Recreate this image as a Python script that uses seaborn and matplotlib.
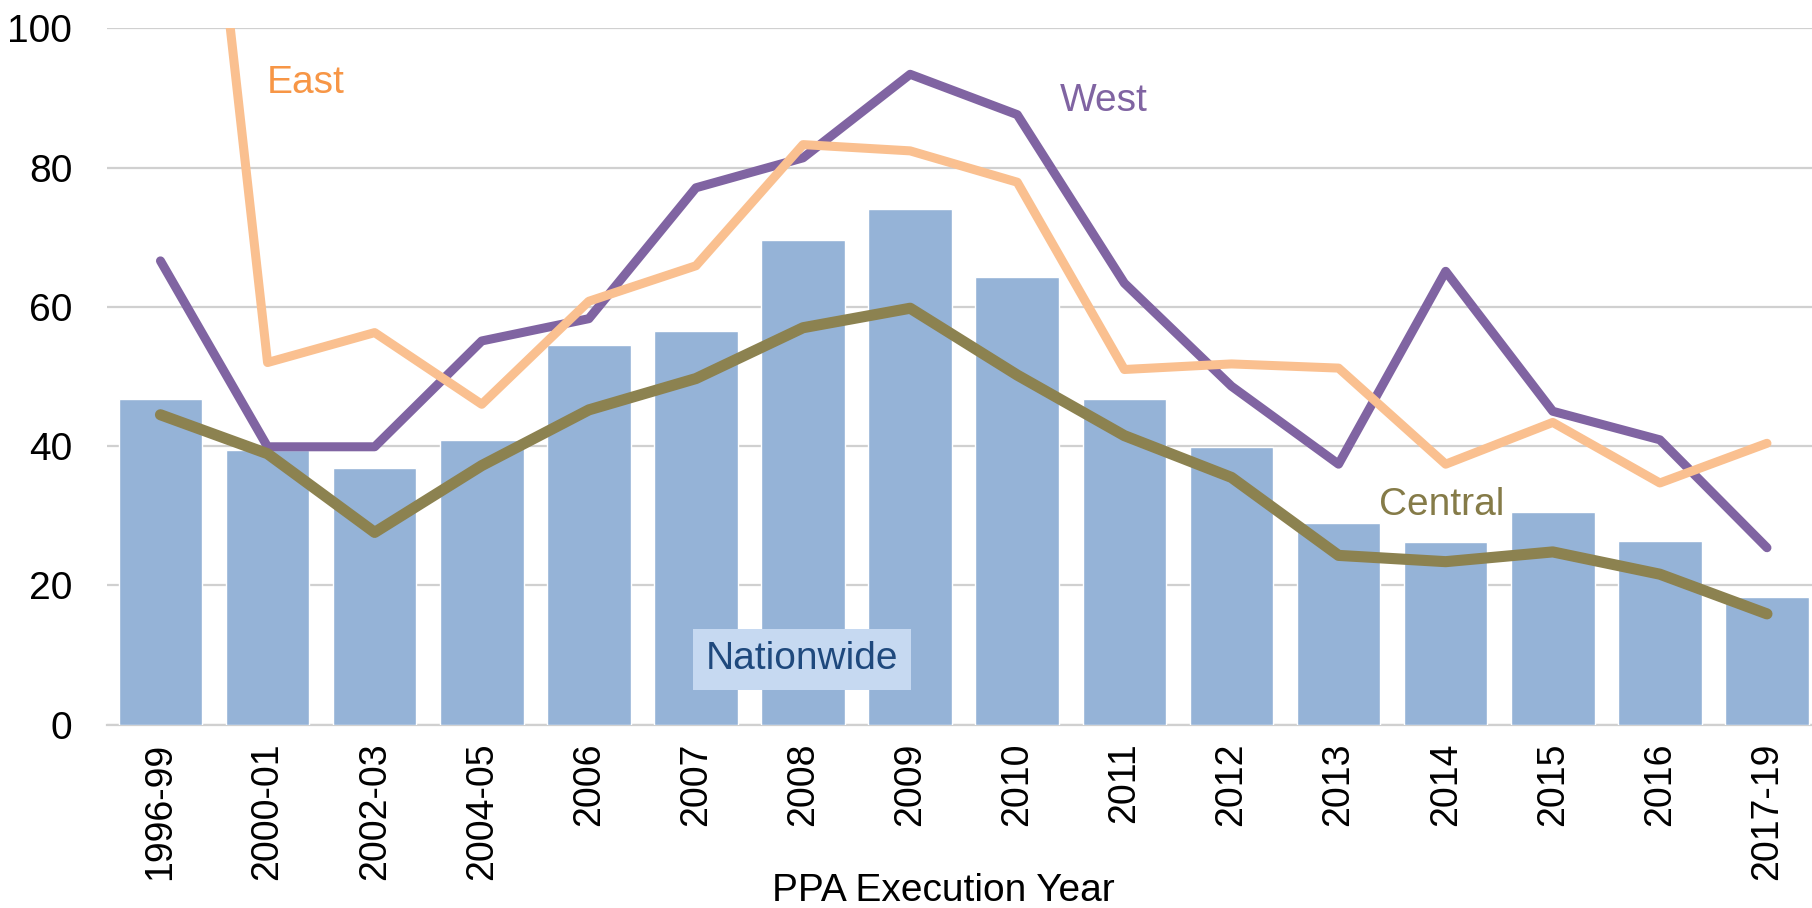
import numpy as np
import pandas as pd
import matplotlib
matplotlib.use("Agg")
import matplotlib.pyplot as plt
import seaborn as sns

# Execution-year buckets
years = ["1996-99", "2000-01", "2002-03", "2004-05", "2006", "2007", "2008",
         "2009", "2010", "2011", "2012", "2013", "2014", "2015", "2016", "2017-19"]

# Nationwide average (bars) and regional averages (lines)
nationwide = [46.7, 39.5, 36.9, 40.9, 54.5, 56.6, 69.6, 74.1, 64.3, 46.7,
              39.9, 28.9, 26.2, 30.6, 26.4, 18.3]
west = [66.6, 39.9, 39.9, 55.1, 58.3, 77.1, 81.4, 93.4, 87.6, 63.4,
        48.6, 37.4, 65.1, 45.0, 40.9, 25.4]
east = [190.0, 52.0, 56.3, 46.0, 60.8, 65.9, 83.3, 82.4, 77.9, 51.0,
        51.8, 51.2, 37.4, 43.4, 34.7, 40.4]
central = [44.5, 38.9, 27.6, 37.2, 45.2, 49.7, 57.0, 59.8, 50.2, 41.5,
           35.5, 24.3, 23.4, 24.8, 21.6, 15.9]

yticks = [0, 20, 40, 60, 80, 100]

df = pd.DataFrame({"year": years, "Nationwide": nationwide,
                   "West": west, "East": east, "Central": central})

sns.set_theme(style="white")
plt.rcParams["font.family"] = ["Liberation Sans", "DejaVu Sans"]

fig = plt.figure(figsize=(18.12, 9.08), dpi=100)
ax = fig.add_axes([0.0590, 0.2020, 0.9457, 0.7668])

sns.barplot(data=df, x="year", y="Nationwide", color="#95B3D7", saturation=1,
            width=0.78, ax=ax, zorder=2)

# Regional lines, with explicit widths applied after drawing
widths = {"West": 6.5, "East": 6.5, "Central": 8.0}
colors = {"West": "#8064A2", "East": "#FAC090", "Central": "#8C8250"}
for region in ["West", "East", "Central"]:
    n_before = len(ax.lines)
    sns.lineplot(data=df, x="year", y=region, sort=False, color=colors[region],
                 ax=ax)
    for ln in ax.lines[n_before:]:
        ln.set_linewidth(widths[region])
        ln.set_solid_capstyle("round")
        ln.set_solid_joinstyle("round")
        ln.set_zorder(3)

ax.set_xlim(-0.5, 15.5)
ax.set_ylim(0, 100)
ax.set_yticks(yticks)
ax.set_yticklabels([str(t) for t in yticks])
ax.yaxis.grid(True, color="#D0D0D0", linewidth=1.6, zorder=0)
ax.set_axisbelow(True)
for side in ["top", "right", "left"]:
    ax.spines[side].set_visible(False)
ax.spines["bottom"].set_color("#D0D0D0")
ax.spines["bottom"].set_linewidth(1.6)
ax.spines["bottom"].set_zorder(1)

ax.tick_params(axis="y", length=0, pad=25, labelsize=28, labelcolor="black")
ax.tick_params(axis="x", length=0, pad=13, labelsize=27, labelcolor="black",
               labelrotation=90)
for lab in ax.get_xticklabels():
    lab.set_verticalalignment("top")
ax.set_xlabel("")
ax.set_ylabel("")

# Series labels
ax.text(0.99, 92.2, "East", color="#F79646", fontsize=28, va="center", ha="left")
ax.text(8.40, 89.5, "West", color="#8064A2", fontsize=28, va="center", ha="left")
ax.text(11.38, 31.6, "Central", color="#857B48", fontsize=28, va="center", ha="left")
ax.text(5.99, 9.35, "Nationwide", color="#1F497D", fontsize=28, va="center",
        ha="center", zorder=5,
        bbox=dict(boxstyle="square,pad=0.32", facecolor="#C6D9F1",
                  edgecolor="none"))

fig.text(0.5207, 0.008, "PPA Execution Year", fontsize=28, ha="center",
         va="baseline", color="black")

fig.savefig("out.png", dpi=100, facecolor="white")
